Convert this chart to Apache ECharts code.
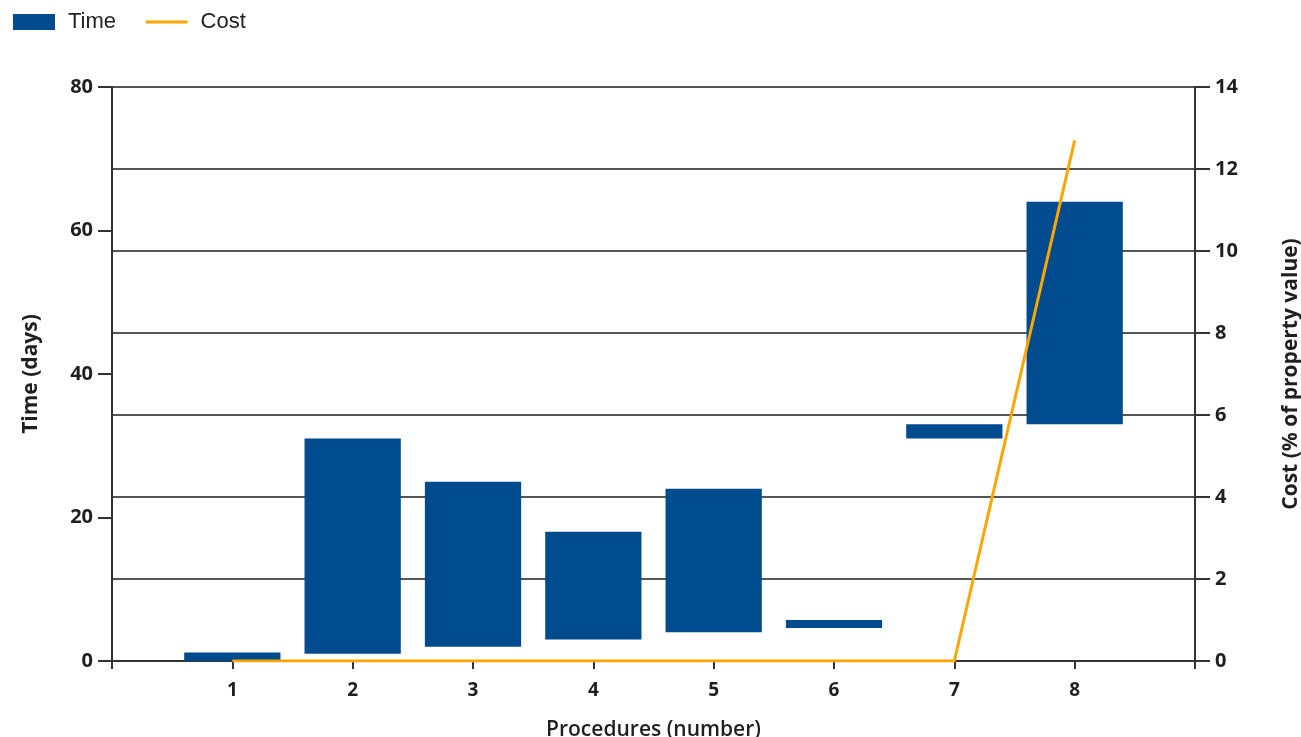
<!DOCTYPE html>
<html>
<head>
<meta charset="utf-8">
<script src="https://cdn.jsdelivr.net/npm/echarts@6/dist/echarts.min.js"></script>
<style>
  html, body { margin: 0; padding: 0; background: #fff; }
  #chart { width: 1301px; height: 737px; }
</style>
</head>
<body>
<div id="chart"></div>
<script>
// Procedure numbers and the day each procedure starts / ends
const procedures = [1, 2, 3, 4, 5, 6, 7, 8];
const timeStart = [0, 1, 2, 3, 4, 4.6, 31, 33];
const timeEnd   = [1.2, 31, 25, 18, 24, 5.7, 33, 64];
// Cumulative cost (% of property value)
const costValues = [0, 0, 0, 0, 0, 0, 0, 12.7];

const timeTicks = [0, 20, 40, 60, 80];
const costTicks = [0, 2, 4, 6, 8, 10, 12, 14];

const BAR_COLOR = '#004b8d';
const COST_COLOR = '#ffa500';
const FONT = '"Open Sans", "Liberation Sans", sans-serif';
const TEXT_COLOR = '#1f1f1f';

const timeData = procedures.map((p, i) => [p, timeStart[i], timeEnd[i]]);
const costData = procedures.map((p, i) => [p, costValues[i]]);

const tickLabel = { fontFamily: FONT, fontSize: 20, fontWeight: 'bold', color: TEXT_COLOR };
const axisName = { fontFamily: FONT, fontSize: 21, fontWeight: 'bold', color: TEXT_COLOR };

const chart = echarts.init(document.getElementById('chart'));
chart.setOption({
  animation: false,
  backgroundColor: '#fff',
  legend: {
    data: [
      { name: 'Time', icon: 'rect' },
      // line-only key: the marker dot is hidden
      { name: 'Cost', itemStyle: { opacity: 0 }, lineStyle: { width: 3, color: COST_COLOR } }
    ],
    left: 13,
    top: 11,
    padding: 0,
    itemWidth: 42,
    itemHeight: 16,
    itemGap: 28,
    textStyle: {
      fontFamily: '"Liberation Sans", Arial, sans-serif',
      fontSize: 22,
      color: '#222',
      padding: [0, 0, 0, 8]
    }
  },
  grid: { left: 112, right: 106, top: 87, bottom: 76, containLabel: false, outerBoundsMode: 'none' },
  xAxis: {
    type: 'value',
    min: 0,
    max: 9,
    interval: 1,
    name: 'Procedures (number)',
    nameLocation: 'middle',
    nameGap: 59,
    nameTextStyle: { fontFamily: FONT, fontSize: 21, fontWeight: 600, color: TEXT_COLOR },
    axisLine: { show: true, onZero: false, lineStyle: { color: '#333', width: 2 } },
    axisTick: { show: true, length: 8, lineStyle: { color: '#333', width: 2 } },
    axisLabel: {
      margin: 20,
      ...tickLabel,
      fontSize: 19,
      formatter: v => procedures.includes(v) ? String(v) : ''
    },
    splitLine: { show: false }
  },
  yAxis: [
    {
      type: 'value',
      min: timeTicks[0],
      max: timeTicks[timeTicks.length - 1],
      interval: 20,
      name: 'Time (days)',
      nameLocation: 'middle',
      nameGap: 70,
      nameRotate: 90,
      nameTextStyle: axisName,
      axisLine: { show: true, lineStyle: { color: '#333', width: 2 } },
      axisTick: { show: true, length: 14, lineStyle: { color: '#333', width: 2 } },
      axisLabel: { margin: 19, ...tickLabel },
      splitLine: { show: false }
    },
    {
      type: 'value',
      position: 'right',
      min: costTicks[0],
      max: costTicks[costTicks.length - 1],
      interval: 2,
      name: 'Cost (% of property value)',
      nameLocation: 'middle',
      nameGap: 86,
      nameRotate: 90,
      nameTextStyle: axisName,
      axisLine: { show: true, lineStyle: { color: '#333', width: 2 } },
      axisTick: { show: true, length: 15, lineStyle: { color: '#333', width: 2 } },
      axisLabel: { margin: 20, ...tickLabel },
      splitLine: { show: true, lineStyle: { color: '#555', width: 2 } }
    }
  ],
  series: [
    {
      name: 'Time',
      type: 'custom',
      data: timeData,
      encode: { x: 0, y: [1, 2] },
      itemStyle: { color: BAR_COLOR },
      renderItem: (params, api) => {
        const x = api.value(0);
        const bottom = api.coord([x, api.value(1)]);
        const top = api.coord([x, api.value(2)]);
        const w = api.size([0.8, 0])[0];
        return {
          type: 'rect',
          shape: { x: bottom[0] - w / 2, y: top[1], width: w, height: bottom[1] - top[1] },
          style: api.style()
        };
      }
    },
    {
      name: 'Cost',
      type: 'line',
      yAxisIndex: 1,
      data: costData,
      symbol: 'none',
      lineStyle: { color: COST_COLOR, width: 3 },
      itemStyle: { color: COST_COLOR },
      z: 5
    }
  ]
});
</script>
</body>
</html>
